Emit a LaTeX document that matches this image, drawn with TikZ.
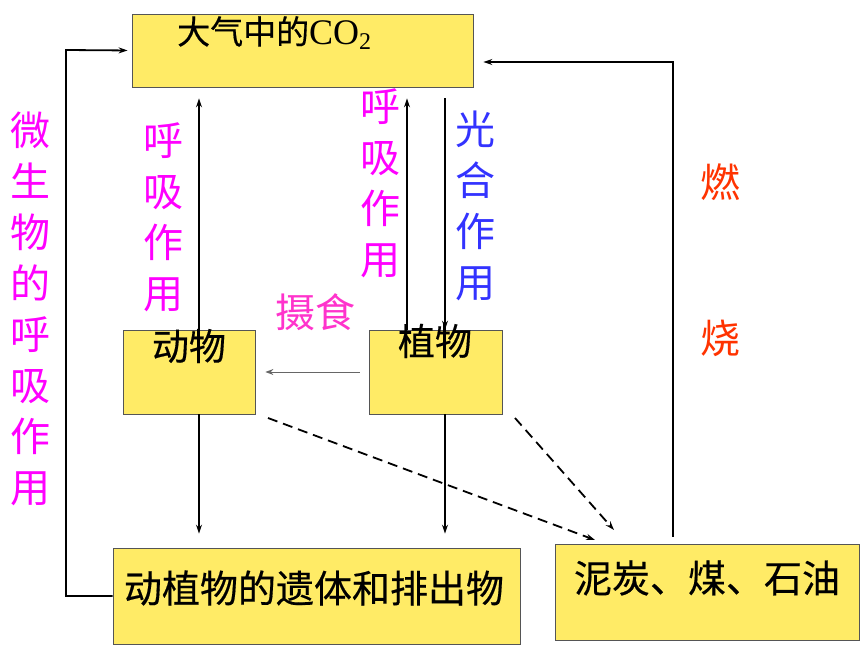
\documentclass[tikz,border=0pt]{standalone}
\usepackage{fontspec}
\setmainfont{Noto Sans CJK SC}
\newfontfamily\heavy[FakeBold=0.4]{Noto Sans CJK SC}
\newfontfamily\serifco{Liberation Serif}
\usetikzlibrary{arrows.meta}
\definecolor{boxfill}{HTML}{FFEB66}
\definecolor{boxline}{HTML}{555555}
\definecolor{mag}{HTML}{FF00FF}
\definecolor{pinkc}{HTML}{FF33CC}
\definecolor{bluec}{HTML}{3333FF}
\definecolor{redc}{HTML}{FF3300}
\tikzset{
  box/.style={draw=boxline, fill=boxfill, line width=0.8pt, inner sep=0pt},
  btext/.style={inner sep=0pt, font=\heavy\fontsize{37}{37}\selectfont},
  vlabel/.style={inner sep=0pt, align=center, font=\fontsize{40}{51}\selectfont},
  arr/.style={line width=1.8pt, -{Stealth[length=9pt,width=6pt]}},
  thinarr/.style={line width=1pt, draw=black!60, -{Stealth[length=8pt,width=6pt]}},
  dasharr/.style={line width=1.8pt, dash pattern=on 10pt off 6pt, -{Stealth[length=9pt,width=6pt]}}
}
\begin{document}
\begin{tikzpicture}[x=1pt,y=-1pt]
\useasboundingbox[fill=white] (0,0) rectangle (860,645);
% boxes
\node[box, minimum width=341pt, minimum height=73pt] (co2) at (302.5,50.5) {};
\node[box, minimum width=132pt, minimum height=84pt] (dongwu) at (189,372) {};
\node[box, minimum width=133pt, minimum height=84pt] (zhiwu) at (435.5,372) {};
\node[box, minimum width=407pt, minimum height=96pt] (yiti) at (316.5,596) {};
\node[box, minimum width=304pt, minimum height=96pt] (nitan) at (707,592) {};
% coordinates
\coordinate (lc) at (66,50);
\coordinate (rc) at (673,62);
\coordinate (xa) at (199,0);
\coordinate (xb) at (407,0);
\coordinate (xc) at (445,0);
\coordinate (d1s) at (268,418);
\coordinate (d1e) at (595,540);
\coordinate (d2s) at (515,418);
\coordinate (d2e) at (614,530);
% connectors
\draw[arr, shorten >=4pt] (yiti.west) -| (lc) -- (co2.west);
\draw[arr, shorten <=7pt, shorten >=10pt] (rc |- nitan.north) -- (rc) -- (co2.east |- rc);
\draw[arr, shorten >=11pt] (xa |- dongwu.north) -- (xa |- co2.south);
\draw[arr, shorten >=11pt] (xb |- zhiwu.north) -- (xb |- co2.south);
\draw[arr, shorten <=11pt] (xc |- co2.south) -- (xc |- zhiwu.north);
\draw[arr, shorten >=14pt] (xa |- dongwu.south) -- (xa |- yiti.north);
\draw[arr, shorten >=14pt] (xc |- zhiwu.south) -- (xc |- yiti.north);
\draw[thinarr, shorten <=9pt, shorten >=10pt] (zhiwu.west) -- (dongwu.east);
\draw[dasharr] (d1s) -- (d1e);
\draw[dasharr] (d2s) -- (d2e);
% box texts
\node[btext, anchor=west, font=\heavy\fontsize{33}{33}\selectfont] (co2t) at (177,33) {大气中的{\serifco\fontsize{36}{36}\selectfont CO\raisebox{-0.35ex}{\fontsize{24}{24}\selectfont 2}}};
\node[btext] (dwt) at (189,346) {动物};
\node[btext] (zwt) at (435,341) {植物};
\node[btext, font=\heavy\fontsize{38}{38}\selectfont] (ytt) at (314,588) {动植物的遗体和排出物};
\node[btext, font=\heavy\fontsize{38}{38}\selectfont] (ntt) at (707,578) {泥炭、煤、石油};
% labels
\node[vlabel, text=mag] (l1) at (30,308.5) {微\\生\\物\\的\\呼\\吸\\作\\用};
\node[vlabel, text=mag] (l2) at (163,217) {呼\\吸\\作\\用};
\node[vlabel, text=mag] (l3) at (380,183.5) {呼\\吸\\作\\用};
\node[vlabel, text=bluec] (l4) at (475,206) {光\\合\\作\\用};
\node[vlabel, text=pinkc] (l5) at (315,312) {摄食};
\node[vlabel, text=redc] (l6) at (720,182) {燃};
\node[vlabel, text=redc] (l7) at (720,338) {烧};
\end{tikzpicture}
\end{document}
